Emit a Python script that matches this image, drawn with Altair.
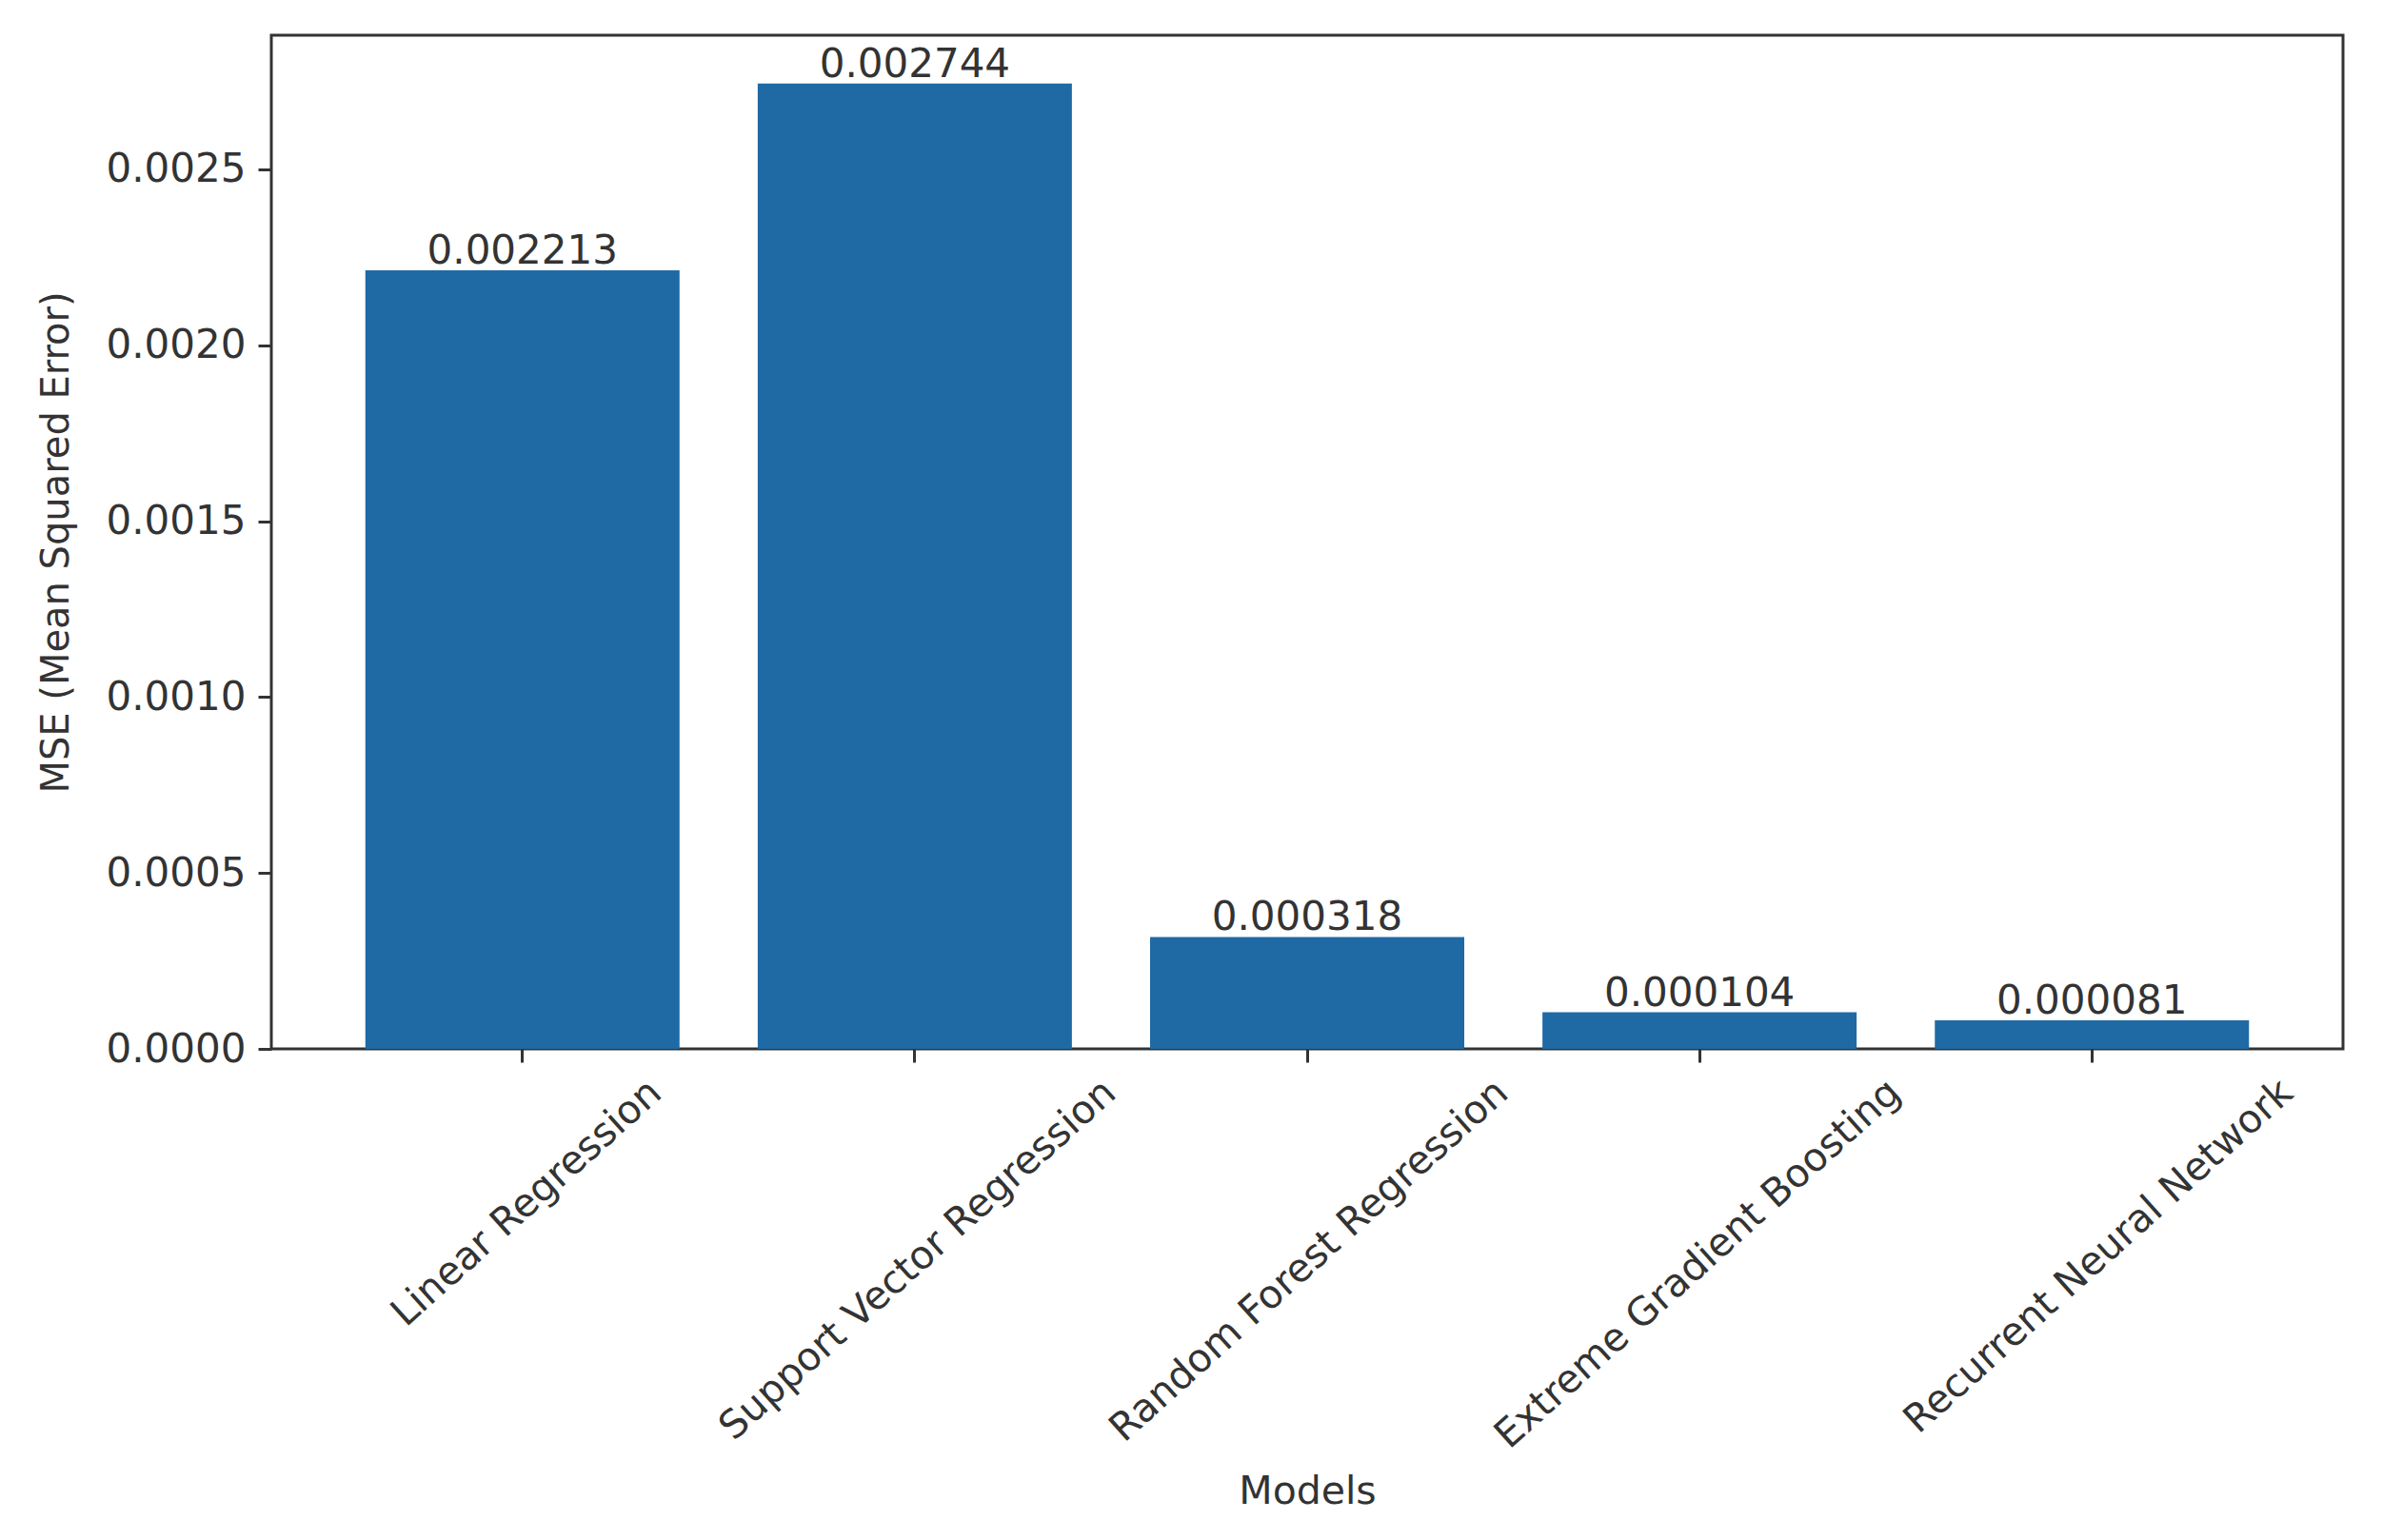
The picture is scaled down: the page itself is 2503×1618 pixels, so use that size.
import altair as alt
import pandas as pd

models = [
    "Linear Regression",
    "Support Vector Regression",
    "Random Forest Regression",
    "Extreme Gradient Boosting",
    "Recurrent Neural Network",
]
mse = [0.002213, 0.002744, 0.000318, 0.000104, 0.000081]
y_ticks = [0.0, 0.0005, 0.0010, 0.0015, 0.0020, 0.0025]

df = pd.DataFrame({"model": models, "mse": mse})

FONT = "DejaVu Sans"
TXT = "#333333"
BAR = "#1f6aa5"
W, H = 2176, 1065

x_enc = alt.X(
    "model:N",
    sort=models,
    title="Models",
    scale=alt.Scale(paddingInner=0.2, paddingOuter=0.24),
    axis=alt.Axis(
        labelAngle=-42,
        labelAlign="right",
        labelBaseline="top",
        labelPadding=11,
        labelOffset={
            "condition": {"test": "datum.value == 'Linear Regression'", "value": 127},
            "value": 192,
        },
        labelFontSize=41,
        tickSize=14,
        tickWidth=3,
        titleFontSize=41,
        titleY=465,
        titleBaseline="middle",
        labelLimit=1000,
    ),
)

y_enc = alt.Y(
    "mse:Q",
    title="MSE (Mean Squared Error)",
    scale=alt.Scale(domain=[0, 0.002881], nice=False),
    axis=alt.Axis(
        values=y_ticks,
        format=".4f",
        labelFontSize=42,
        labelPadding=13,
        tickSize=14,
        tickWidth=3,
        grid=False,
        titleFontSize=40,
        titleX=-226,
        titleBaseline="middle",
        titleAngle=-90,
    ),
)

base = alt.Chart(df)

bars = base.mark_bar(color=BAR, size=330).encode(x=x_enc, y=y_enc)

labels = base.mark_text(
    baseline="alphabetic",
    align="center",
    dy=-7,
    fontSize=42,
    font=FONT,
    color=TXT,
).encode(
    x=alt.X("model:N", sort=models),
    y=alt.Y("mse:Q"),
    text=alt.Text("mse:Q", format=".6f"),
)

chart = (
    alt.layer(bars, labels)
    .properties(
        width=W,
        height=H,
        autosize=alt.AutoSizeParams(type="none"),
        padding={"left": 277, "top": 29, "right": 34, "bottom": 508},
        background="white",
    )
    .configure_view(stroke="#333333", strokeWidth=3)
    .configure_axis(
        domain=False,
        labelFont=FONT,
        titleFont=FONT,
        labelColor=TXT,
        titleColor=TXT,
        tickColor=TXT,
        titleFontWeight="normal",
    )
)

chart.save("out.html", embed_options={"renderer": "svg", "actions": False})
